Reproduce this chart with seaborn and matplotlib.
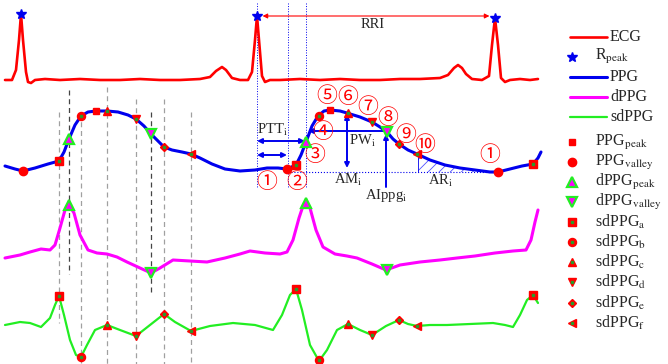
import seaborn as sns
import matplotlib.pyplot as plt
import numpy as np

# curves (x, y in pixel units, y grows downward)
ecg_x = [5, 12, 16, 19, 21, 23, 26, 28, 31, 35, 45, 60, 80, 100, 120, 140, 160, 180, 200, 210, 216, 222, 226, 232, 240, 248, 252, 255, 257, 259, 262, 265, 270, 280, 300, 320, 340, 360, 380, 400, 420, 440, 448, 454, 458, 462, 466, 472, 482, 489, 492, 495, 498, 501, 505, 510, 520, 530, 538]
ecg_y = [80, 80, 70, 40, 14, 40, 72, 82, 83, 80, 79, 80, 79, 80, 80, 79, 80, 80, 79, 77, 71, 67, 70, 78, 80, 80, 72, 40, 16, 40, 76, 82, 80, 80, 79, 80, 79, 80, 80, 79, 79, 78, 75, 68, 65, 68, 74, 79, 80, 76, 45, 18, 45, 78, 82, 80, 79, 80, 79]

ppg_x = [5, 15, 23, 35, 48, 59, 64, 69, 75, 81, 88, 96, 107, 118, 128, 136, 144, 151, 158, 164, 172, 182, 191, 200, 212, 225, 240, 255, 267, 278, 287, 296, 301, 306, 312, 318, 324, 330, 340, 347, 360, 372, 380, 387, 393, 399, 408, 417, 430, 445, 460, 475, 490, 498, 510, 522, 533, 538, 541]
ppg_y = [166, 169, 171, 168, 164, 161, 152, 139, 125, 116, 112, 111, 111, 112, 115, 119, 126, 134, 141, 147, 150, 152, 154, 158, 164, 169, 171, 170, 168, 168, 169, 165, 155, 142, 126, 116, 111, 110, 111, 113, 117, 122, 127, 132, 139, 144, 150, 154, 160, 165, 168, 170, 172, 172, 169, 166, 164, 158, 152]

dppg_x = [5, 20, 30, 41, 50, 55, 60, 65, 69, 74, 80, 88, 97, 107, 117, 127, 140, 151, 160, 173, 190, 207, 225, 240, 250, 265, 280, 287, 293, 299, 303, 306, 310, 316, 323, 335, 347, 357, 372, 386, 400, 420, 440, 457, 475, 495, 513, 526, 531, 535, 538]
dppg_y = [258, 255, 252, 249, 250, 245, 228, 210, 205, 213, 235, 250, 253, 254, 257, 262, 268, 273, 268, 260, 261, 262, 258, 254, 251, 253, 254, 252, 240, 218, 206, 203, 208, 230, 247, 254, 256, 258, 264, 270, 265, 262, 260, 258, 256, 253, 251, 250, 240, 222, 210]

sdppg_x = [5, 20, 30, 41, 50, 55, 59, 64, 70, 76, 81, 87, 95, 107, 120, 136, 150, 164, 175, 191, 210, 233, 255, 273, 282, 290, 296, 302, 310, 319, 327, 337, 348, 360, 372, 386, 399, 408, 417, 430, 447, 470, 493, 505, 513, 520, 527, 533, 538]
sdppg_y = [325, 322, 323, 327, 318, 305, 296, 315, 340, 355, 357, 345, 330, 325, 330, 336, 325, 314, 322, 331, 326, 323, 325, 330, 315, 295, 289, 310, 345, 361, 350, 330, 324, 330, 335, 326, 320, 324, 326, 325, 325, 324, 323, 325, 327, 315, 300, 295, 303]

# feature points
r_peak_x = [21, 257, 495]
r_peak_y = [14, 16, 18]
ppg_peak_x = [96, 330]
ppg_peak_y = [111, 110]
ppg_valley_x = [23, 287, 498]
ppg_valley_y = [171, 169, 172]
dpeak_x = [69, 306]
dpeak_ppg_y = [139, 142]
dpeak_dppg_y = [205, 203]
dvalley_x = [151, 387]
dvalley_ppg_y = [134, 132]
dvalley_dppg_y = [273, 270]
sd_x = {'a': [59, 296, 533], 'b': [81, 319], 'c': [107, 348],
        'd': [136, 372], 'e': [164, 399], 'f': [191, 417]}
sd_ppg_y = {'a': [161, 165, 164], 'b': [116, 116], 'c': [111, 113],
            'd': [119, 122], 'e': [147, 144], 'f': [154, 154]}
sd_sdppg_y = {'a': [296, 289, 295], 'b': [357, 360], 'c': [325, 324],
              'd': [336, 335], 'e': [314, 320], 'f': [331, 326]}
sd_marker = {'a': 's', 'b': 'o', 'c': '^', 'd': 'v', 'e': 'D', 'f': '<'}

sns.set_style('white')
plt.rcParams['font.family'] = ['Liberation Serif', 'DejaVu Serif']
plt.rcParams['mathtext.fontset'] = 'stix'
plt.rcParams['hatch.linewidth'] = 0.6

fig = plt.figure(figsize=(6.68, 3.64), dpi=100)
ax = fig.add_axes([0, 0, 1, 1])

RED = '#ff0000'
BLUE = '#0000ee'
MAG = '#ff00ff'
GRN = '#22ee22'

# guide lines
gray_lines = [(59, 112, 323), (81, 113, 364), (107, 87, 364), (136, 99, 364), (164, 99, 364), (191, 112, 364)]
dark_lines = [(69, 90, 274), (151, 112, 295)]
for x, y0, y1 in gray_lines:
    ax.plot([x, x], [y0, y1], ls=(0, (4, 3)), color='#a0a0a0', lw=0.9)
for x, y0, y1 in dark_lines:
    ax.plot([x, x], [y0, y1], ls=(0, (4, 3)), color='#444444', lw=0.9)
for x in [257, 288, 306]:
    ax.plot([x, x], [3, 188], ls=':', color=BLUE, lw=0.7)
ax.plot([288, 500], [172, 172], ls=':', color=BLUE, lw=0.8)

# AR hatched area
ar_x = [x for x in ppg_x if 418 <= x <= 475]
ar_y = [ppg_y[ppg_x.index(x)] for x in ar_x]
ax.fill_between([418] + ar_x, [154] + ar_y, 172, facecolor='none', edgecolor='#5050ff',
                hatch='///', lw=0)
ax.plot([418, 418], [154, 172], color=BLUE, lw=0.6)

# curves
sns.lineplot(x=ecg_x, y=ecg_y, sort=False, estimator=None, color=RED, lw=1.9, ax=ax)
sns.lineplot(x=ppg_x, y=ppg_y, sort=False, estimator=None, color=BLUE, lw=2.2, ax=ax)
sns.lineplot(x=dppg_x, y=dppg_y, sort=False, estimator=None, color=MAG, lw=2.2, ax=ax)
sns.lineplot(x=sdppg_x, y=sdppg_y, sort=False, estimator=None, color=GRN, lw=1.6, ax=ax)


def r_mark(xs, ys):
    ax.plot(xs, ys, ls='none', marker='*', ms=7, color=BLUE, zorder=5)


def peak_mark(xs, ys):
    ax.plot(xs, ys, ls='none', marker='s', ms=5, color=RED, zorder=5)


def valley_mark(xs, ys):
    ax.plot(xs, ys, ls='none', marker='o', ms=6, color=RED, zorder=5)


def d_mark(xs, ys, m):
    ax.plot(xs, ys, ls='none', marker=m, ms=6.5, mfc=MAG, mec=GRN, mew=1.6, zorder=5)


def sd_mark(xs, ys, m):
    s = 4.5 if m == 'D' else 5.8
    ax.plot(xs, ys, ls='none', marker=m, ms=s, color=RED, zorder=5)
    ax.plot(xs, ys, ls='none', marker='s', ms=1.8, color='#2a9a2a', zorder=6)


r_mark(r_peak_x, r_peak_y)
peak_mark(ppg_peak_x, ppg_peak_y)
valley_mark(ppg_valley_x, ppg_valley_y)
d_mark(dpeak_x, dpeak_ppg_y, '^')
d_mark(dpeak_x, dpeak_dppg_y, '^')
d_mark(dvalley_x, dvalley_ppg_y, 'v')
d_mark(dvalley_x, dvalley_dppg_y, 'v')
for k in sd_x:
    sd_mark(sd_x[k], sd_ppg_y[k], sd_marker[k])
    sd_mark(sd_x[k], sd_sdppg_y[k], sd_marker[k])

# arrows and labels
ax.annotate('', xy=(257, 16), xytext=(495, 16),
            arrowprops=dict(arrowstyle='<|-|>', color=RED, lw=0.8, mutation_scale=7, shrinkA=4, shrinkB=4))
ax.text(373, 24, 'RRI', ha='center', va='center', fontsize=10.5)
arr = dict(arrowstyle='<|-|>', color=BLUE, lw=1.4, mutation_scale=7, shrinkA=0, shrinkB=0)
ax.annotate('', xy=(257, 141), xytext=(305, 141), arrowprops=arr)
ax.annotate('', xy=(257, 155), xytext=(287, 155), arrowprops=arr)
ax.text(272, 130, 'PTT$_{\\rm i}$', ha='center', va='center', fontsize=10.5)
ax.annotate('', xy=(308, 131), xytext=(387, 131),
            arrowprops=dict(arrowstyle='-|>', color=BLUE, lw=1.4, mutation_scale=7, shrinkA=0, shrinkB=0))
ax.text(362, 141, 'PW$_{\\rm i}$', ha='center', va='center', fontsize=10.5)
ax.annotate('', xy=(347, 114), xytext=(347, 168), arrowprops=arr)
ax.text(348, 180, 'AM$_{\\rm i}$', ha='center', va='center', fontsize=10.5)
ax.annotate('', xy=(386, 134), xytext=(386, 187),
            arrowprops=dict(arrowstyle='-|>', color=BLUE, lw=1.4, mutation_scale=7, shrinkA=0, shrinkB=0))
ax.text(386, 196, 'AIppg$_{\\rm i}$', ha='center', va='center', fontsize=10.5)
ax.text(441, 181, 'AR$_{\\rm i}$', ha='center', va='center', fontsize=10.5)

circ_labels = ['①', '②', '③', '④', '⑤', '⑥', '⑦', '⑧', '⑨', '⑩', '①']
circ_x = [267, 297, 315, 323, 327, 348, 368, 388, 406, 425, 490]
circ_y = [182, 182, 155, 132, 96, 97, 107, 118, 135, 145, 155]
for s, x, y in zip(circ_labels, circ_x, circ_y):
    ax.text(x, y, s, ha='center', va='center', fontsize=15, color=RED,
            family=['Noto Sans CJK JP', 'DejaVu Sans'])

# legend
FS = 11.5
line_items = [('ECG', RED, 1.9), ('R$_{\\rm peak}$', None, 0), ('PPG', BLUE, 2.2),
              ('dPPG', MAG, 2.2), ('sdPPG', GRN, 1.6)]
y = 37
for lab, col, lw in line_items:
    if col is None:
        r_mark([572], [y])
        ax.text(595, y, lab, va='center', fontsize=FS)
    else:
        ax.plot([570, 607], [y, y], color=col, lw=lw)
        ax.text(610, y, lab, va='center', fontsize=FS)
    y += 20
y = 142
peak_mark([572], [y]); ax.text(595, y, 'PPG$_{\\rm peak}$', va='center', fontsize=FS)
y += 20
valley_mark([572], [y]); ax.text(595, y, 'PPG$_{\\rm valley}$', va='center', fontsize=FS)
y += 20
d_mark([572], [y], '^'); ax.text(595, y, 'dPPG$_{\\rm peak}$', va='center', fontsize=FS)
y += 20
d_mark([572], [y], 'v'); ax.text(595, y, 'dPPG$_{\\rm valley}$', va='center', fontsize=FS)
for k in sd_x:
    y += 20.1
    sd_mark([572], [y], sd_marker[k])
    ax.text(595, y, 'sdPPG$_{\\rm %s}$' % k, va='center', fontsize=FS)

ax.set_xlim(0, 668)
ax.set_ylim(364, 0)
ax.axis('off')
fig.savefig('out.png', dpi=100)
